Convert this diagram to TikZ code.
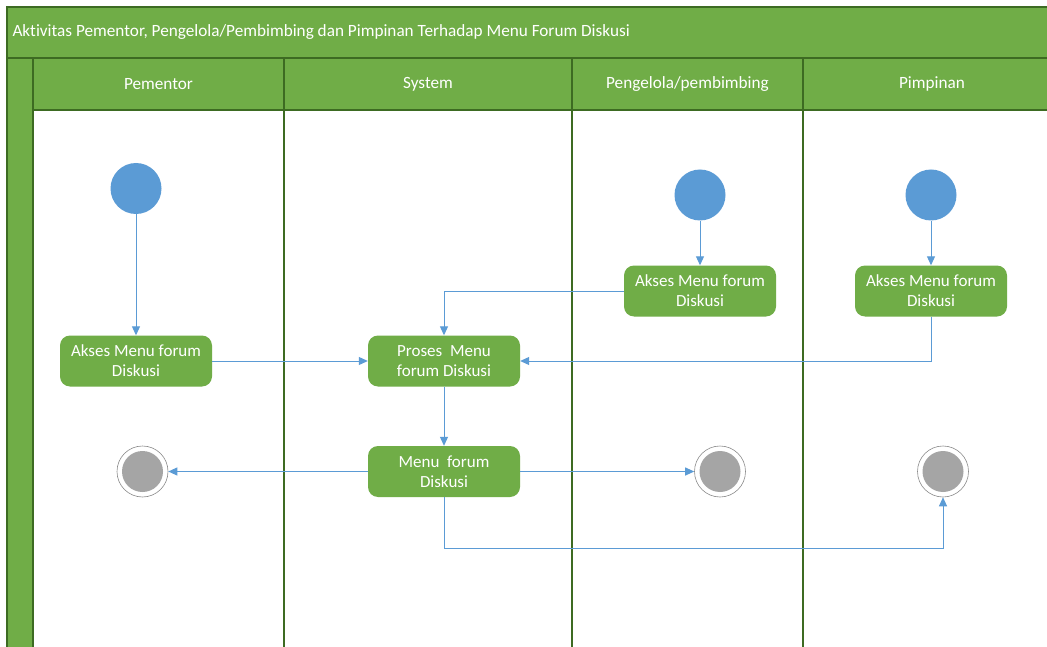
\documentclass[tikz,border=0pt]{standalone}
\usepackage{fontspec}
\setmainfont{Carlito}[RawFeature={-liga}]
\usetikzlibrary{arrows.meta}
\definecolor{vgreen}{HTML}{70AD47}
\definecolor{dgreen}{HTML}{507E32}
\definecolor{lanel}{HTML}{3D6B22}
\definecolor{vblue}{HTML}{5B9BD5}
\definecolor{vgray}{HTML}{A5A5A5}
\definecolor{egray}{HTML}{8C8C8C}
\tikzset{
  action/.style={rectangle, rounded corners=10pt, fill=vgreen, text=white,
    minimum width=152pt, minimum height=51pt, align=center, inner sep=2pt,
    font=\fontsize{17}{20}\selectfont},
  startnode/.style={circle, fill=vblue, minimum size=51pt, inner sep=0pt},
  endnode/.style={circle, fill=white, draw=egray, line width=0.6pt, minimum size=51pt, inner sep=0pt,
    path picture={\fill[vgray] (path picture bounding box.center) circle (20.5pt);}},
  arr/.style={draw=vblue, line width=1pt, -{Triangle[length=9pt,width=8pt]}},
  lane/.style={draw=lanel, line width=1.3pt},
  hdr/.style={text=white, font=\fontsize{17.2}{20}\selectfont},
}
\begin{document}
\begin{tikzpicture}[x=1pt,y=-1pt]
\useasboundingbox (0,0) rectangle (1047,647);
\fill[white] (0,0) rectangle (1047,647);
\begin{scope}
\clip (0,0) rectangle (1047,647);
% pool
\fill[vgreen] (7,7) rectangle (1070,110);
\fill[vgreen] (7,58) rectangle (33,660);
\draw[lane] (7,660) -- (7,7) -- (1070,7);
\draw[lane] (7,58) -- (1070,58);
\draw[lane] (33,110) -- (1070,110);
\draw[lane] (33,58) -- (33,660);
\draw[lane] (284,58) -- (284,660);
\draw[lane] (572,58) -- (572,660);
\draw[lane] (803,58) -- (803,660);
\end{scope}
\node[hdr, anchor=west] (title) at (9,32) {Aktivitas Pementor, Pengelola/Pembimbing dan Pimpinan Terhadap Menu Forum Diskusi};
\node[hdr] (l1) at (158.5,84) {Pementor};
\node[hdr] (l2) at (428,84) {System};
\node[hdr] (l3) at (687.5,84) {Pengelola/pembimbing};
\node[hdr] (l4) at (932,84) {Pimpinan};
% nodes
\node[startnode] (s1) at (136,188.5) {};
\node[startnode] (s2) at (700,195) {};
\node[startnode] (s3) at (931,195) {};
\node[action] (a1) at (136,361) {Akses Menu forum\\Diskusi};
\node[action] (pr) at (444,361) {Proses\ \ Menu\\forum Diskusi};
\node[action] (a2) at (700,291) {Akses Menu forum\\Diskusi};
\node[action] (a3) at (931,291) {Akses Menu forum\\Diskusi};
\node[action] (mn) at (444,471.5) {Menu\ \ forum\\Diskusi};
\node[endnode] (e1) at (142.5,471.5) {};
\node[endnode] (e2) at (720,471.5) {};
\node[endnode] (e3) at (943,471.5) {};
\coordinate (c1) at (444,548);
% connectors
\draw[arr] (s1) -- (a1);
\draw[arr] (a1) -- (pr);
\draw[arr] (s2) -- (a2);
\draw[arr] (a2.west) -| (pr.north);
\draw[arr] (s3) -- (a3);
\draw[arr] (a3.south) |- (pr.east);
\draw[arr] (pr) -- (mn);
\draw[arr] (mn) -- (e1);
\draw[arr] (mn) -- (e2);
\draw[arr] (mn.south) -- (c1) -| (e3.south);
\end{tikzpicture}
\end{document}
